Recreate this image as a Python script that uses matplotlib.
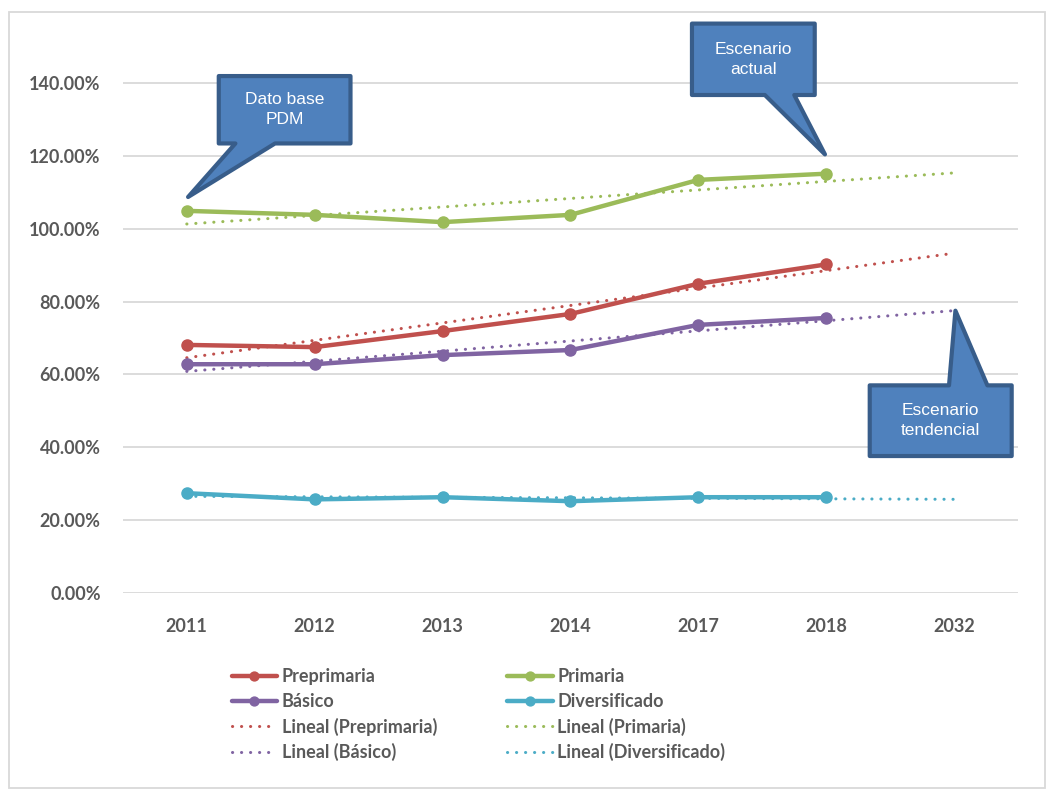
import numpy as np
import matplotlib
matplotlib.use("Agg")
import matplotlib.pyplot as plt
from matplotlib.patches import Polygon, Rectangle

# datos (porcentaje)
years = ["2011", "2012", "2013", "2014", "2017", "2018", "2032"]
preprimaria = [68.1, 67.5, 71.9, 76.6, 84.9, 90.2]
primaria = [104.9, 103.8, 101.8, 103.8, 113.4, 115.1]
basico = [62.8, 62.8, 65.3, 66.7, 73.6, 75.5]
diversificado = [27.4, 25.7, 26.3, 25.2, 26.3, 26.3]
yticks = [0, 20, 40, 60, 80, 100, 120, 140]

series = [
    ("Preprimaria", preprimaria, "#C0504D"),
    ("Primaria", primaria, "#9BBB59"),
    ("Básico", basico, "#8064A2"),
    ("Diversificado", diversificado, "#4BACC6"),
]

GRAY = "#595959"
plt.rcParams["font.family"] = ["Lato", "DejaVu Sans"]

fig = plt.figure(figsize=(10.5, 7.91), dpi=100)
ax = fig.add_axes([0.117, 0.2503, 0.8526, 0.7277])

x_all = np.arange(len(years))
handles = {}
for name, vals, color in series:
    x = np.arange(len(vals))
    ln, = ax.plot(x, vals, color=color, lw=3.2, marker="o", markersize=8,
                  solid_capstyle="round", zorder=3, label=name)
    # linea de tendencia lineal (como Excel), extendida un periodo
    slope, inter = np.polyfit(x + 1, vals, 1)
    tr, = ax.plot(x_all, slope * (x_all + 1) + inter, color=color, lw=2.2,
                  linestyle=(0, (0.05, 2.9)), dash_capstyle="round", zorder=2,
                  label=f"Lineal ({name})")
    handles[name] = (ln, tr)

ax.set_xlim(-0.5, 6.5)
ax.set_ylim(0, 158)
ax.set_xticks(x_all)
ax.set_xticklabels(years)
ax.set_yticks(yticks)
ax.set_yticklabels([f"{v:.2f}%" for v in yticks])
ax.tick_params(length=0, labelsize=13, labelcolor=GRAY)
ax.tick_params(axis="x", pad=18)
ax.tick_params(axis="y", pad=16)
for lab in ax.get_xticklabels() + ax.get_yticklabels():
    lab.set_fontweight("bold")
ax.grid(axis="y", color="#D9D9D9", lw=1.3)
ax.set_axisbelow(True)
for s in ax.spines.values():
    s.set_visible(False)

# llamadas (callouts)
def callout(box, base, tip, text):
    x0, x1, y0, y1 = box
    b0, b1 = base
    if tip[1] < y0:
        pts = [(x0, y1), (x1, y1), (x1, y0), (b1, y0), tip, (b0, y0), (x0, y0)]
    else:
        pts = [(x0, y0), (x0, y1), (b0, y1), tip, (b1, y1), (x1, y1), (x1, y0)]
    ax.add_patch(Polygon(pts, closed=True, facecolor="#4F81BD",
                         edgecolor="#385D8A", lw=3, joinstyle="round",
                         zorder=5, clip_on=False))
    ax.text((x0 + x1) / 2, (y0 + y1) / 2, text, ha="center", va="center",
            color="white", fontsize=12.5, family="Liberation Sans",
            linespacing=1.45, zorder=6, clip_on=False)

callout((0.25, 1.28, 123.4, 141.9), (0.38, 0.69), (0.01, 108.7), "Dato base\nPDM")
callout((3.95, 4.91, 136.7, 156.3), (4.52, 4.75), (4.99, 120.4), "Escenario\nactual")
callout((5.34, 6.45, 37.6, 57.0), (5.96, 6.26), (6.01, 77.5), "Escenario\ntendencial")

# leyenda en dos columnas (orden por columnas)
order = [handles["Preprimaria"][0], handles["Básico"][0],
         handles["Preprimaria"][1], handles["Básico"][1],
         handles["Primaria"][0], handles["Diversificado"][0],
         handles["Primaria"][1], handles["Diversificado"][1]]
leg = fig.legend(handles=order, labels=[h.get_label() for h in order],
                 ncol=2, loc="upper left", bbox_to_anchor=(0.214, 0.164),
                 frameon=False, fontsize=13, handlelength=2.5,
                 handletextpad=0.25, columnspacing=3.9, labelspacing=0.42,
                 borderaxespad=0, markerscale=0.8)
for t in leg.get_texts():
    t.set_color(GRAY)
    t.set_fontweight("bold")

# borde del area del grafico
fig.patches.append(Rectangle((9 / 1050, 3 / 791), 1036 / 1050, 776 / 791,
                             transform=fig.transFigure, fill=False,
                             edgecolor="#D9D9D9", lw=1.3))

fig.savefig("out.png", dpi=100)
